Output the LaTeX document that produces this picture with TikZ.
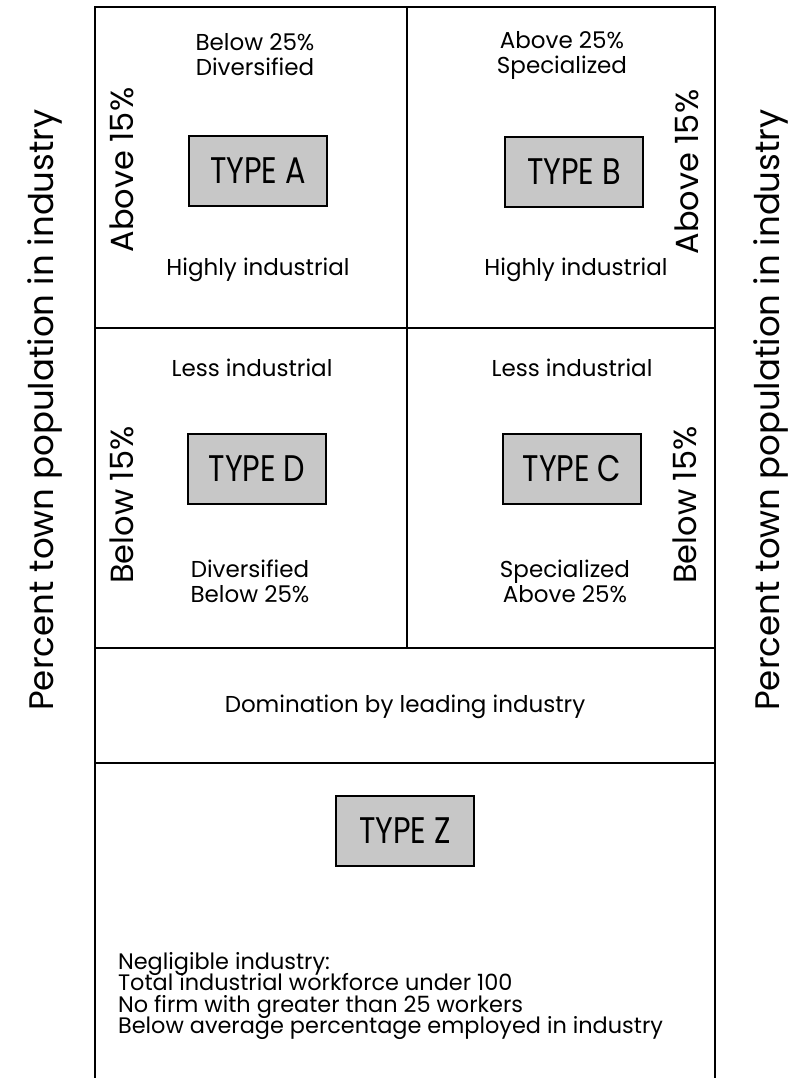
\documentclass[tikz,border=0pt]{standalone}
\usepackage{fontspec}
\setmainfont{Poppins}
\newfontfamily\typefont[FakeStretch=0.82]{Poppins}
\newcommand{\tightlines}{\lineskiplimit=-10pt\relax}

\begin{document}
\begin{tikzpicture}[x = 0.5pt, y = -0.5pt,
   frame/.style = {line width = 1pt},
   typebox/.style = {draw, line width = 0.7pt, fill = black!22,
      minimum width = 69pt, minimum height = 35pt, inner sep = 0pt,
      font = \typefont\fontsize{18.5}{20}\selectfont},
   lbl/.style = {align = center, font = \fontsize{11.5}{12.5}\selectfont},
   rot/.style = {rotate = 90, font = \fontsize{16}{19}\selectfont},
   side/.style = {rotate = 90, inner sep = 0pt, font = \fontsize{17}{19}\selectfont}]
   \useasboundingbox (0,0) rectangle (790,1078);
   % frame lines
   \draw[frame] (95,1078) -- (95,7) -- (715,7) -- (715,1078);
   \draw[frame] (407,7) -- (407,648);
   \draw[frame] (95,328) -- (715,328);
   \draw[frame] (95,648) -- (715,648);
   \draw[frame] (95,763) -- (715,763);
   % side labels
   \node[side] (leftlbl) at (45,410) {Percent town population in industry};
   \node[side] (rightlbl) at (771,410) {Percent town population in industry};
   % type A
   \node[lbl] (atop) at (255,55) {Below 25\%\\Diversified};
   \node[typebox] (typea) at (258,171) {TYPE A};
   \node[lbl] (abot) at (258,270) {Highly industrial};
   \node[rot] (aside) at (122,170) {Above 15\%};
   % type B
   \node[lbl] (btop) at (562,55) {Above 25\%\\Specialized};
   \node[typebox] (typeb) at (574,172) {TYPE B};
   \node[lbl] (bbot) at (576,270) {Highly industrial};
   \node[rot] (bside) at (687,172) {Above 15\%};
   % type D
   \node[lbl] (dtop) at (252,368) {Less industrial};
   \node[typebox] (typed) at (257,469) {TYPE D};
   \node[lbl] (dbot) at (250,581) {Diversified\\Below 25\%};
   \node[rot] (dside) at (122,505) {Below 15\%};
   % type C
   \node[lbl] (ctop) at (572,368) {Less industrial};
   \node[typebox] (typec) at (572,469) {TYPE C};
   \node[lbl] (cbot) at (565,581) {Specialized\\Above 25\%};
   \node[rot] (cside) at (685,505) {Below 15\%};
   % domination
   \node[lbl] (dom) at (405,707) {Domination by leading industry};
   % type Z
   \node[lbl, align = left, anchor = west,
      font = {\fontsize{11.2}{10.6}\selectfont\tightlines}] (ztext) at (111,996)
      {Negligible industry:\\Total industrial workforce under 100\\No firm with greater than 25 workers\\Below average percentage employed in industry};
   \node[typebox] (typez) at (405,831) {TYPE Z};
\end{tikzpicture}
\end{document}
